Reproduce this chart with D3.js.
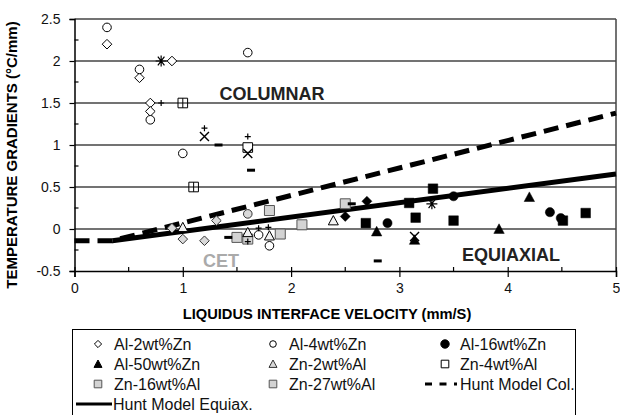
<!DOCTYPE html>
<html><head><meta charset="utf-8">
<script src="https://cdn.jsdelivr.net/npm/d3@7"></script>
<style>
body{margin:0;background:#fff;}
svg{display:block;font-family:"Liberation Sans",Arial,sans-serif;}
</style></head>
<body><svg id="c" width="620" height="415"></svg>
<script>
// ---- data (x: mm/s, y: °C/mm) ----
const xTicks = [0,1,2,3,4,5];
const yTicks = [-0.5,0,0.5,1,1.5,2,2.5];
const yTickLabels = ["-0.5","0","0.5","1","1.5","2","2.5"];
const al2Zn = [[0.3,2.2],[0.6,1.8],[0.9,2.0],[0.7,1.5],[0.7,1.4]];
const al2ZnLow = [[1.31,0.1],[1.0,-0.12],[1.2,-0.14],[0.9,0.01]];
const al4Zn = [[0.3,2.4],[0.6,1.9],[0.7,1.3],[1.6,2.1],[1.0,0.9],[1.7,-0.07],[1.8,-0.2]];
const al4ZnLow = [[1.6,0.18]];
const al16Zn = [[2.89,0.07],[3.5,0.39],[4.39,0.2],[4.49,0.13]];
const al50Zn = [[2.79,-0.03],[3.14,-0.13],[3.92,0.0],[4.2,0.38]];
const zn2Al = [[1.6,-0.04],[1.8,-0.08],[2.39,0.1],[1.0,0.02]];
const zn4Al = [[1.6,0.97]];
const zn16Al = [[1.5,-0.1],[1.9,-0.06],[2.1,0.05],[1.6,-0.12]];
const zn27Al = [[1.8,0.22],[2.5,0.3]];
const blackSquares = [[2.69,0.07],[3.09,0.31],[3.15,0.135],[3.31,0.48],[3.5,0.1],[4.51,0.1],[4.72,0.19]];
const blackDiamonds = [[2.7,0.33],[2.5,0.15]];
const asterisks = [[0.8,2.0],[3.3,0.3]];
const pluses = [[0.8,1.5],[1.2,1.2],[1.6,1.1],[1.6,-0.15],[1.79,0.02],[1.7,0.01]];
const crosses = [[1.2,1.1],[1.6,0.9],[3.14,-0.09]];
const dashes = [[1.33,1.0],[1.63,0.7],[2.8,-0.38],[1.42,-0.1],[2.56,0.3]];
const boxedPlus = [[1.0,1.5],[1.1,0.5]];
const huntColX = [0,0.35,5];
const huntColY = [-0.14,-0.14,1.38];
const huntEqX = [0.35,5];
const huntEqY = [-0.14,0.655];
const legendLabels = ["Al-2wt%Zn","Al-4wt%Zn","Al-16wt%Zn","Al-50wt%Zn","Zn-2wt%Al","Zn-4wt%Al","Zn-16wt%Al","Zn-27wt%Al","Hunt Model Col.","Hunt Model Equiax."];

// ---- setup ----
const svg = d3.select("#c");
const x = d3.scaleLinear().domain([0,5]).range([74.5,616]);
const y = d3.scaleLinear().domain([-0.5,2.5]).range([271,19]);

const shape = {
  circle: r => `M${r},0A${r},${r} 0 1,1 ${-r},0A${r},${r} 0 1,1 ${r},0Z`,
  diamond: s => `M0,${-s}L${s},0L0,${s}L${-s},0Z`,
  square: s => `M${-s},${-s}H${s}V${s}H${-s}Z`,
  triangle: s => `M0,${-s}L${s},${s*0.85}L${-s},${s*0.85}Z`,
  plus: s => `M${-s},0H${s}M0,${-s}V${s}`,
  cross: s => `M${-s},${-s}L${s},${s}M${-s},${s}L${s},${-s}`,
  asterisk: s => `M${-s},0H${s}M${-s*0.6},${-s*0.8}L${s*0.6},${s*0.8}M${-s*0.6},${s*0.8}L${s*0.6},${-s*0.8}M0,${-s}V${s}`,
  dash: s => `M${-s},0H${s}`,
  boxedPlus: s => `M${-s},${-s}H${s}V${s}H${-s}Z M${-s},0H${s}M0,${-s}V${s}`
};

// gridlines
const grid = svg.append("g");
grid.selectAll("line").data(yTicks.filter(v=>v>-0.5)).join("line")
  .attr("x1",x(0)).attr("x2",x(5)).attr("y1",d=>y(d)).attr("y2",d=>y(d))
  .attr("stroke","#444").attr("stroke-width",1.5);
// right border
svg.append("line").attr("x1",x(5)).attr("x2",x(5)).attr("y1",y(2.5)).attr("y2",y(-0.5))
  .attr("stroke","#444").attr("stroke-width",1.5);

// axes
const yAxis = svg.append("g").attr("transform",`translate(${x(0)},0)`)
  .call(d3.axisLeft(y).tickValues(yTicks).tickSize(5).tickFormat((d,i)=>yTickLabels[i]));
const xAxis = svg.append("g").attr("transform",`translate(0,${y(-0.5)})`)
  .call(d3.axisBottom(x).tickValues(xTicks).tickSize(6).tickFormat(d3.format("d")));
[yAxis,xAxis].forEach(a=>{
  a.select(".domain").attr("stroke","#000").attr("stroke-width",1.5);
  a.selectAll(".tick line").attr("stroke","#000").attr("stroke-width",1.2);
  a.selectAll(".tick text").attr("font-size",14).attr("fill","#111").attr("font-family","Liberation Sans, Arial, sans-serif");
});
yAxis.selectAll(".tick text").attr("x",-14);
xAxis.selectAll(".tick text").attr("y",12);
xAxis.selectAll(".tick line").attr("y1",-4);
// minor ticks
svg.append("g").selectAll("line").data(d3.range(-0.25,2.5,0.5)).join("line")
  .attr("x1",x(0)).attr("x2",x(0)+4).attr("y1",d=>y(d)).attr("y2",d=>y(d))
  .attr("stroke","#000").attr("stroke-width",1.2);
svg.append("g").selectAll("line").data(d3.range(0.5,5,1)).join("line")
  .attr("x1",d=>x(d)).attr("x2",d=>x(d)).attr("y1",y(-0.5)).attr("y2",y(-0.5)-4)
  .attr("stroke","#000").attr("stroke-width",1.2);

// axis titles
svg.append("text").attr("x",327).attr("y",319).attr("text-anchor","middle")
  .attr("font-size",14.7).attr("font-weight","bold").text("LIQUIDUS INTERFACE VELOCITY (mm/S)");
svg.append("text").attr("transform","translate(17,155) rotate(-90)").attr("text-anchor","middle")
  .attr("font-size",15).attr("font-weight","bold").text("TEMPERATURE GRADIENTS (°C/mm)");

// region labels
svg.append("text").attr("x",272).attr("y",100).attr("text-anchor","middle").attr("font-size",18).attr("font-weight","bold").attr("fill","#222").text("COLUMNAR");
svg.append("text").attr("x",511).attr("y",261).attr("text-anchor","middle").attr("font-size",18).attr("font-weight","bold").attr("fill","#222").text("EQUIAXIAL");
svg.append("text").attr("x",221).attr("y",267).attr("text-anchor","middle").attr("font-size",18).attr("font-weight","bold").attr("fill","#aaa").text("CET");

// model lines
const line = d3.line().x(d=>x(d[0])).y(d=>y(d[1]));
svg.append("path").datum(huntEqX.map((v,i)=>[v,huntEqY[i]])).attr("d",line)
  .attr("fill","none").attr("stroke","#000").attr("stroke-width",5);
svg.append("path").datum(huntColX.map((v,i)=>[v,huntColY[i]])).attr("d",line)
  .attr("fill","none").attr("stroke","#000").attr("stroke-width",5).attr("stroke-dasharray","15,8");

// markers
function plot(data, kind, size, fill, stroke, sw){
  svg.append("g").selectAll("path").data(data).join("path")
    .attr("transform",d=>`translate(${x(d[0])},${y(d[1])})`)
    .attr("d",shape[kind](size)).attr("fill",fill).attr("stroke",stroke).attr("stroke-width",sw);
}
plot(zn16Al,"square",5,"#d3d3d3","#555",1);
plot(zn27Al,"square",5,"#d3d3d3","#555",1);
plot(al2Zn,"diamond",4.8,"#fff","#000",1);
plot(al2ZnLow,"diamond",4.8,"#d9d9d9","#333",1);
plot(al4Zn,"circle",4.3,"#fff","#000",1);
plot(al4ZnLow,"circle",4.3,"#d9d9d9","#333",1);
plot(zn2Al,"triangle",5,"#f2f2f2","#000",1);
plot(zn4Al,"square",4.8,"#fff","#000",1);
plot(boxedPlus,"boxedPlus",4.8,"#fff","#000",1);
plot(blackSquares,"square",4.8,"#000","#000",0.5);
plot(blackDiamonds,"diamond",5,"#000","#000",0.5);
plot(al16Zn,"circle",4.6,"#000","#000",0.5);
plot(al50Zn,"triangle",5.2,"#000","#000",0.5);
plot(asterisks,"asterisk",5.5,"none","#000",1.2);
plot(pluses,"plus",3,"none","#000",1.2);
plot(crosses,"cross",4.5,"none","#000",1.4);
plot(dashes,"dash",4,"none","#000",3);

// legend
const lg = svg.append("g");
lg.append("rect").attr("x",72.5).attr("y",329.5).attr("width",503).attr("height",90)
  .attr("fill","#fff").attr("stroke","#000").attr("stroke-width",1);
const colX = [98,273,445], colT = [114,289,460], rowY = [344,364,384,404];
const legSym = [
  ["diamond",3.6,"#fff","#000"],["circle",3.3,"#fff","#000"],["circle",4.2,"#000","#000"],
  ["triangle",4,"#000","#000"],["triangle",4,"#d9d9d9","#333"],["square",3.8,"#fff","#000"],
  ["square",3.8,"#d3d3d3","#555"],["square",3.8,"#d3d3d3","#555"]
];
legSym.forEach((s,i)=>{
  const cx = colX[i%3], cy = rowY[Math.floor(i/3)];
  lg.append("path").attr("transform",`translate(${cx},${cy})`).attr("d",shape[s[0]](s[1]))
    .attr("fill",s[2]).attr("stroke",s[3]).attr("stroke-width",1);
});
lg.append("line").attr("x1",425).attr("x2",457).attr("y1",384).attr("y2",384)
  .attr("stroke","#000").attr("stroke-width",3).attr("stroke-dasharray","7,7.5");
lg.append("line").attr("x1",76).attr("x2",112).attr("y1",404).attr("y2",404)
  .attr("stroke","#000").attr("stroke-width",3);
legendLabels.forEach((t,i)=>{
  let tx, ty;
  if(i<9){ tx = colT[i%3]; ty = rowY[Math.floor(i/3)]; }
  else { tx = 113; ty = rowY[3]; }
  lg.append("text").attr("x",tx).attr("y",ty).attr("dy","0.36em").attr("font-size",16).attr("fill","#111").text(t);
});
</script></body></html>
